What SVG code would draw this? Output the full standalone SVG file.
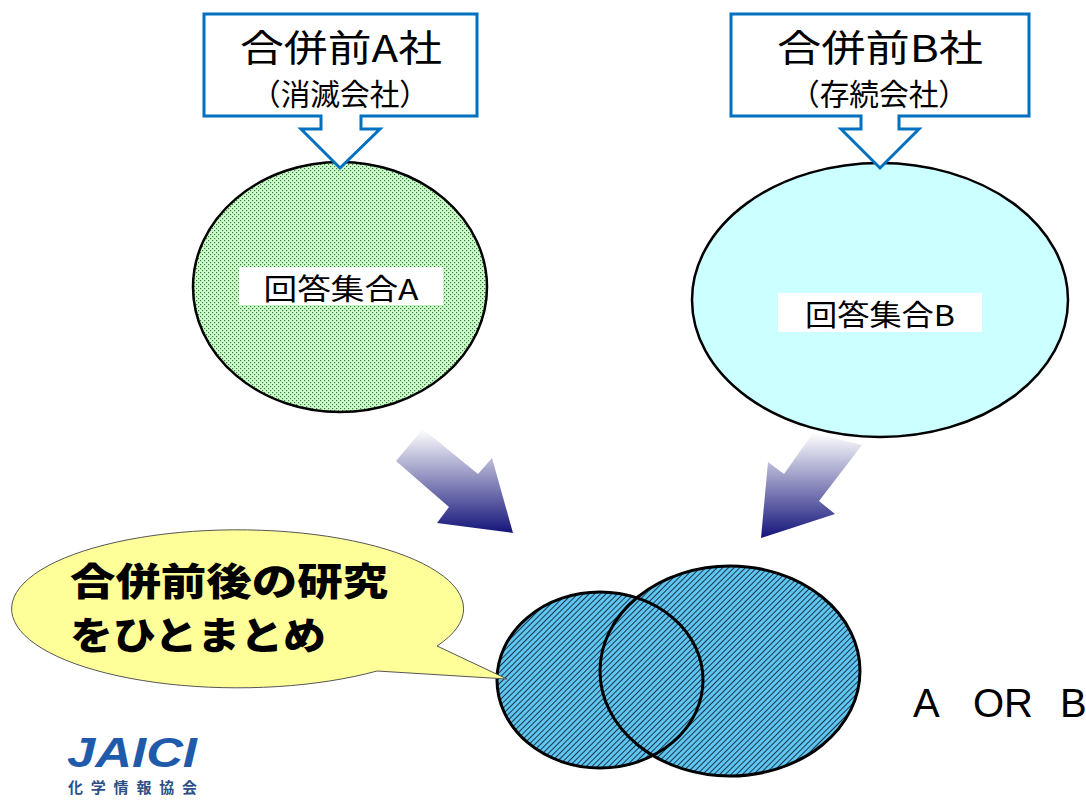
<svg xmlns="http://www.w3.org/2000/svg" width="1086" height="800" viewBox="0 0 1086 800">
<style>
.cjk{font-family:"Noto Sans CJK JP","Noto Sans",sans-serif;fill:#000}
.lat{font-family:"Liberation Sans",Arial,sans-serif;fill:#000}
.callout{fill:#fff;stroke:#0070C0;stroke-width:3;stroke-linejoin:miter}
.set{stroke:#000;stroke-width:2.5}
.venn{fill:none;stroke:#000;stroke-width:3}
</style>
<defs>
<pattern id="dots" width="4" height="4" patternUnits="userSpaceOnUse">
<rect width="4" height="4" fill="#CCFFCC"/>
<rect x="0" y="0" width="1.2" height="1.2" fill="#3a7a3a"/>
<rect x="2" y="2" width="1.2" height="1.2" fill="#3a7a3a"/>
</pattern>
<pattern id="hatch" width="4" height="4" patternUnits="userSpaceOnUse" patternTransform="rotate(45)">
<rect width="4" height="4" fill="#5FC6F0"/>
<rect x="0" y="0" width="1" height="4" fill="#1b3550"/>
</pattern>
<linearGradient id="gL" gradientUnits="userSpaceOnUse" x1="0" y1="429" x2="0" y2="533">
<stop offset="0" stop-color="#ffffff"/>
<stop offset="1" stop-color="#14147a"/>
</linearGradient>
<linearGradient id="gR" gradientUnits="userSpaceOnUse" x1="0" y1="433" x2="0" y2="538">
<stop offset="0" stop-color="#ffffff"/>
<stop offset="1" stop-color="#14147a"/>
</linearGradient>
</defs>
<rect width="1086" height="800" fill="#fff"/>

<g id="setA">
<ellipse class="set" cx="340" cy="287" rx="147" ry="125" fill="url(#dots)"/>
<rect x="239" y="267" width="204" height="38" fill="#fff"/>
<text class="cjk" x="341" y="300" font-size="29" text-anchor="middle" textLength="155" lengthAdjust="spacingAndGlyphs">回答集合A</text>
</g>

<g id="setB">
<ellipse class="set" cx="880" cy="300" rx="188" ry="137" fill="#CCFFFF"/>
<rect x="778" y="293" width="204" height="39" fill="#fff"/>
<text class="cjk" x="880" y="326" font-size="29" text-anchor="middle" textLength="150" lengthAdjust="spacingAndGlyphs">回答集合B</text>
</g>

<g id="companyA">
<path class="callout" d="M204,14 H477 V116 H361 V129 H380 L340,168 L301,129 H321 V116 H204 Z"/>
<text class="cjk" x="341" y="62" font-size="37" text-anchor="middle" textLength="202" lengthAdjust="spacingAndGlyphs">合併前A社</text>
<text class="cjk" x="340" y="105" font-size="30" text-anchor="middle" textLength="178" lengthAdjust="spacingAndGlyphs">（消滅会社）</text>
</g>

<g id="companyB">
<path class="callout" d="M731,14 H1029 V116 H899 V129 H919 L880,168 L841,129 H861 V116 H731 Z"/>
<text class="cjk" x="880" y="62" font-size="37" text-anchor="middle" textLength="206" lengthAdjust="spacingAndGlyphs">合併前B社</text>
<text class="cjk" x="879" y="105" font-size="30" text-anchor="middle" textLength="178" lengthAdjust="spacingAndGlyphs">（存続会社）</text>
</g>

<g id="connectors">
<polygon points="396,461 423,429 478,474 492,458 513,533 437,523 449,507" fill="url(#gL)"/>
<polygon points="813,433 862,445 819,501 835,514 761,538 768,462 784,474" fill="url(#gR)"/>
</g>

<g id="union">
<ellipse cx="600" cy="680" rx="103" ry="88" fill="url(#hatch)"/>
<ellipse cx="730" cy="671" rx="130" ry="105" fill="url(#hatch)"/>
<ellipse class="venn" cx="600" cy="680" rx="103" ry="88"/>
<ellipse class="venn" cx="730" cy="671" rx="130" ry="105"/>
</g>

<g id="bubble">
<path d="M437,646 L507,679 L377,671 A226,79 0 1 1 437,646 Z" fill="#FFFF99" stroke="#555" stroke-width="1"/>
<text class="cjk" x="70" y="595" font-size="38" font-weight="900" textLength="318" lengthAdjust="spacingAndGlyphs">合併前後の研究</text>
<text class="cjk" x="70" y="649" font-size="38" font-weight="900" textLength="256" lengthAdjust="spacingAndGlyphs">をひとまとめ</text>
</g>

<g id="label-or">
<text class="lat" x="913" y="717" font-size="40">A</text>
<text class="lat" x="973" y="717" font-size="40">OR</text>
<text class="lat" x="1060" y="717" font-size="40">B</text>
</g>

<g id="logo">
<text x="67" y="767" font-family="Liberation Sans,Arial,sans-serif" font-size="42" font-weight="bold" font-style="italic" fill="#1F5BAA" textLength="130" lengthAdjust="spacingAndGlyphs">JAICI</text>
<text x="68" y="793" font-family="Noto Sans CJK JP,sans-serif" font-size="15" font-weight="bold" fill="#2c4f86" textLength="129" lengthAdjust="spacing">化学情報協会</text>
</g>
</svg>
